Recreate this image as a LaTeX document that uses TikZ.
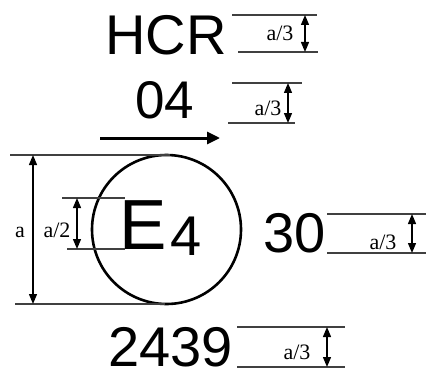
\documentclass[tikz,border=0pt]{standalone}
\usepackage{fontspec}
\setmainfont{Liberation Sans}
\newfontfamily\dimfont{Liberation Serif}
\usetikzlibrary{arrows.meta}

\begin{document}
\begin{tikzpicture}[x=1pt,y=-1pt,>={Triangle[length=10pt,width=8pt]},
  dimline/.style={draw=black!75,line width=1.2pt},
  dimarrow/.style={<->,line width=1.3pt},
  dimlabel/.style={font=\dimfont\fontsize{22}{22}\selectfont,inner sep=0pt},
  bigtext/.style={inner sep=0pt,anchor=base}]
  \useasboundingbox (0,0) rectangle (426,369);

  % marking text
  \node[bigtext,font=\fontsize{56}{56}\selectfont] (hcr) at (166,55) {HCR};
  \node[bigtext,font=\fontsize{53}{53}\selectfont] (num) at (164.5,118) {04};
  \node[bigtext,anchor=base west,font=\fontsize{71}{71}\selectfont] (elet) at (119.5,249) {E};
  \node[bigtext,anchor=base west,font=\fontsize{56}{56}\selectfont] (country) at (170.5,255) {4};
  \node[bigtext,font=\fontsize{56}{56}\selectfont] (cls) at (294.5,252) {30};
  \node[bigtext,font=\fontsize{56}{56}\selectfont] (appr) at (170.5,366) {2439};

  \draw[line width=3pt,-{Triangle[length=13pt,width=12pt]}] (100,138) -- (220,138);
  \draw[line width=2.6pt] (166.5,229.5) circle (74.5);

  % dimensions
  \draw[dimline] (232,15) -- (317,15) (238,52) -- (318,52);
  \draw[dimarrow] (305,15) -- (305,52);
  \node[dimlabel] (d1) at (280,33) {a/3};

  \draw[dimline] (232,83) -- (302,83) (228,123) -- (295,123);
  \draw[dimarrow] (288,83) -- (288,123);
  \node[dimlabel] (d2) at (268,108) {a/3};

  \draw[dimline] (10,155) -- (170,155) (15,304) -- (165,304);
  \draw[dimarrow] (33,155) -- (33,304);
  \node[dimlabel] (da) at (20,232) {a};

  \draw[dimline] (62,198) -- (125,198) (67,249) -- (125,249);
  \draw[dimarrow] (77,198) -- (77,249);
  \node[dimlabel] (dh) at (57,230) {a/2};

  \draw[dimline] (327,214) -- (426,214) (327,253) -- (426,253);
  \draw[dimarrow] (412,214) -- (412,253);
  \node[dimlabel] (d3) at (383,242) {a/3};

  \draw[dimline] (237,327) -- (345,327) (237,367) -- (345,367);
  \draw[dimarrow] (327,327) -- (327,367);
  \node[dimlabel] (d4) at (297,352) {a/3};
\end{tikzpicture}
\end{document}
